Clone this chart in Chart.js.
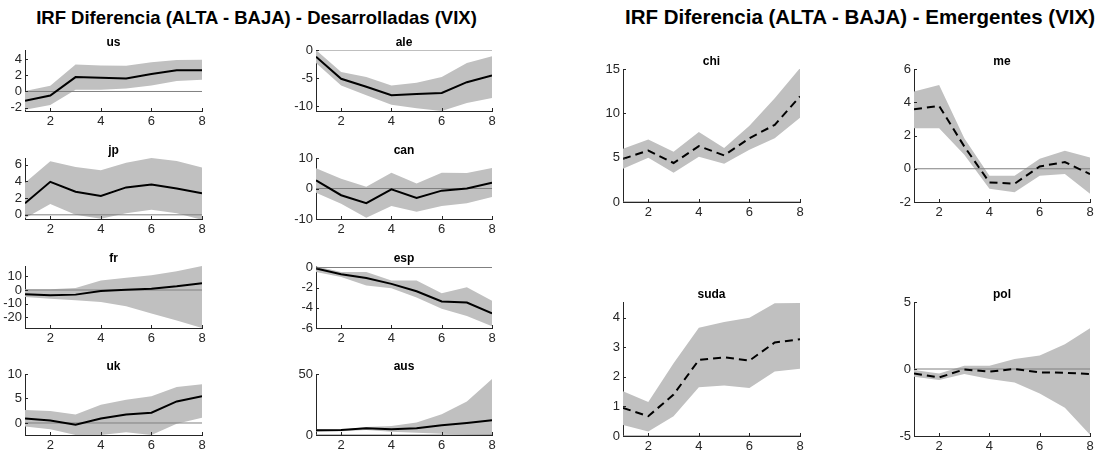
<!DOCTYPE html>
<html><head><meta charset="utf-8">
<script src="https://cdn.jsdelivr.net/npm/chart.js@4.4.0/dist/chart.umd.min.js"></script>
<style>
body{margin:0;background:#fff;width:1099px;height:458px;position:relative;overflow:hidden;font-family:"Liberation Sans",Arial,sans-serif}
.ttl{position:absolute;font-weight:bold;color:#000;text-align:center;white-space:nowrap}
canvas{position:absolute}
</style></head><body>
<div class="ttl" style="left:0;width:513px;top:7px;font-size:18.5px">IRF Diferencia (ALTA - BAJA) - Desarrolladas (VIX)</div>
<div class="ttl" style="left:605px;width:510px;top:5px;font-size:20.5px">IRF Diferencia (ALTA - BAJA) - Emergentes (VIX)</div>
<script>
// horizonte y ticks del eje x
const steps = [1, 2, 3, 4, 5, 6, 7, 8];
const xTicks = [2, 4, 6, 8];

// desarrolladas: respuesta (mid) y banda (up / lo)
const us_mid = [-1.15, -0.5, 1.77, 1.69, 1.6, 2.14, 2.6, 2.6];
const us_up = [0.05, 0.7, 3.33, 3.2, 3.17, 3.6, 3.87, 3.9];
const us_lo = [-2.26, -1.65, 0.2, 0.2, 0.37, 0.74, 1.3, 1.44];
const ale_mid = [-1.2, -5.1, -6.5, -8.0, -7.8, -7.6, -5.7, -4.5];
const ale_up = [0, -3.9, -4.8, -6.3, -5.8, -4.8, -2.3, -1.1];
const ale_lo = [-2.3, -6.3, -8.0, -9.7, -10.3, -10.8, -9.4, -8.5];
const jp_mid = [1.38, 3.95, 2.76, 2.25, 3.28, 3.63, 3.16, 2.57];
const jp_up = [3.83, 6.4, 5.72, 5.33, 6.24, 6.8, 6.43, 5.65];
const jp_lo = [-0.4, 1.3, 0, -0.47, 0.2, 0.6, 0.2, -0.6];
const can_mid = [2.7, -2.2, -4.8, -0.3, -3.1, -0.7, 0, 1.9];
const can_up = [6.6, 3.2, 0.6, 5.2, 1.6, 5.2, 5.1, 6.7];
const can_lo = [-1.4, -5, -9.6, -5.7, -7.6, -5.7, -4.8, -2.8];
const fr_mid = [-3.2, -3.9, -3.4, -0.7, 0.2, 1, 2.7, 4.9];
const fr_up = [0.5, 0.5, 1.5, 7.1, 9.1, 10.8, 13.8, 17.7];
const fr_lo = [-5.2, -6.4, -7.6, -8.8, -12, -17.4, -22.4, -28];
const esp_mid = [-0.1, -0.67, -1.04, -1.62, -2.36, -3.37, -3.47, -4.55];
const esp_up = [0.13, -0.44, -0.44, -1.28, -1.28, -2.56, -1.95, -3.3];
const esp_lo = [-0.44, -0.94, -1.79, -2.06, -2.97, -4.08, -4.82, -5.83];
const uk_mid = [0.9, 0.5, -0.35, 0.9, 1.75, 2.1, 4.4, 5.45];
const uk_up = [2.65, 2.45, 1.75, 3.7, 4.75, 5.45, 7.35, 7.9];
const uk_lo = [-0.7, -1.26, -2.45, -2.45, -1.9, -2.45, -0.14, 1.05];
const aus_mid = [3.85, 4.1, 5.5, 4.7, 5.5, 8, 9.9, 12.1];
const aus_up = [4.7, 4.4, 6.6, 7.4, 10.2, 17, 27.5, 45.9];
const aus_lo = [2.75, 3, 4.1, 2.75, 1.9, 1.1, 0.5, 0];

// emergentes
const chi_mid = [4.87, 5.8, 4.4, 6.3, 5.25, 7.2, 8.7, 11.9];
const chi_up = [6.0, 7.05, 5.66, 7.9, 6.1, 8.6, 11.7, 15.1];
const chi_lo = [3.75, 5.0, 3.3, 5.1, 4.3, 5.9, 7.2, 9.5];
const me_mid = [3.58, 3.78, 1.34, -0.82, -0.9, 0.14, 0.4, -0.32];
const me_up = [4.64, 5.04, 1.84, -0.42, -0.42, 0.6, 1.08, 0.68];
const me_lo = [2.44, 2.44, 0.84, -1.2, -1.42, -0.42, -0.32, -1.5];
const suda_mid = [0.95, 0.67, 1.4, 2.57, 2.66, 2.55, 3.16, 3.27];
const suda_up = [1.51, 1.15, 2.46, 3.66, 3.85, 4.0, 4.49, 4.5];
const suda_lo = [0.37, 0.15, 0.67, 1.65, 1.71, 1.62, 2.18, 2.27];
const pol_mid = [-0.33, -0.63, -0.03, -0.2, 0, -0.25, -0.28, -0.38];
const pol_up = [-0.08, -0.33, 0.25, 0.25, 0.75, 1.0, 1.85, 3.05];
const pol_lo = [-0.58, -0.83, -0.38, -0.75, -1.0, -1.83, -2.9, -4.9];

// ticks del eje y
const us_ticks = [-2, 0, 2, 4];
const ale_ticks = [-10, -5, 0];
const jp_ticks = [0, 2, 4, 6];
const can_ticks = [-10, 0, 10];
const fr_ticks = [-20, -10, 0, 10];
const esp_ticks = [-6, -4, -2, 0];
const uk_ticks = [0, 5, 10];
const aus_ticks = [0, 50];
const chi_ticks = [0, 5, 10, 15];
const me_ticks = [-2, 0, 2, 4, 6];
const suda_ticks = [0, 1, 2, 3, 4];
const pol_ticks = [-5, 0, 5];

Chart.defaults.font.family = '"Liberation Sans", Arial, sans-serif';

const panels = [
  {name: 'us', mid: us_mid, up: us_up, lo: us_lo, ticks: us_ticks, min: -2.4, max: 5.1, box: [25, 50, 202, 111]},
  {name: 'ale', mid: ale_mid, up: ale_up, lo: ale_lo, ticks: ale_ticks, min: -10.8, max: 0, box: [316, 50, 492, 111]},
  {name: 'jp', mid: jp_mid, up: jp_up, lo: jp_lo, ticks: jp_ticks, min: -0.5, max: 6.8, box: [25, 158, 202, 219]},
  {name: 'can', mid: can_mid, up: can_up, lo: can_lo, ticks: can_ticks, min: -10, max: 10, box: [316, 158, 492, 219]},
  {name: 'fr', mid: fr_mid, up: fr_up, lo: fr_lo, ticks: fr_ticks, min: -28, max: 17.7, box: [25, 266, 202, 328]},
  {name: 'esp', mid: esp_mid, up: esp_up, lo: esp_lo, ticks: esp_ticks, min: -6, max: 0.15, box: [316, 266, 492, 328]},
  {name: 'uk', mid: uk_mid, up: uk_up, lo: uk_lo, ticks: uk_ticks, min: -2.45, max: 10, box: [25, 374, 202, 435]},
  {name: 'aus', mid: aus_mid, up: aus_up, lo: aus_lo, ticks: aus_ticks, min: 0, max: 50, box: [316, 374, 492, 435]},
  {name: 'chi', mid: chi_mid, up: chi_up, lo: chi_lo, ticks: chi_ticks, min: 0, max: 15, box: [623, 69, 800, 202], dash: true},
  {name: 'me', mid: me_mid, up: me_up, lo: me_lo, ticks: me_ticks, min: -2, max: 6, box: [914, 69, 1090, 202], dash: true},
  {name: 'suda', mid: suda_mid, up: suda_up, lo: suda_lo, ticks: suda_ticks, min: 0, max: 4.53, box: [623, 302, 800, 436], dash: true},
  {name: 'pol', mid: pol_mid, up: pol_up, lo: pol_lo, ticks: pol_ticks, min: -5, max: 5, box: [914, 302, 1090, 436], dash: true}
];

// ticks hacia adentro, estilo matlab
const inTicks = {
  id: 'inTicks',
  afterDraw(chart) {
    const {ctx, chartArea: a, scales: {x, y}} = chart;
    ctx.save();
    ctx.strokeStyle = '#262626';
    ctx.lineWidth = 1;
    ctx.beginPath();
    x.ticks.forEach(t => {
      const px = Math.round(x.getPixelForValue(t.value)) + 0.5;
      ctx.moveTo(px, a.bottom); ctx.lineTo(px, a.bottom - 3);
    });
    y.ticks.forEach(t => {
      const py = Math.round(y.getPixelForValue(t.value)) + 0.5;
      ctx.moveTo(a.left, py); ctx.lineTo(a.left + 3, py);
    });
    ctx.stroke();
    ctx.restore();
  }
};

const padL = 38, padT = 23, padR = 10, padB = 22;

function drawPanel(p) {
  const [l, t, r, b] = p.box;
  const c = document.createElement('canvas');
  c.width = r - l + padL + padR;
  c.height = b - t + padT + padB;
  c.style.left = (l - padL) + 'px';
  c.style.top = (t - padT) + 'px';
  document.body.appendChild(c);
  const pts = arr => steps.map((x, i) => ({x: x, y: arr[i]}));
  new Chart(c, {
    type: 'line',
    data: {
      datasets: [
        {data: pts(p.lo), borderWidth: 0, pointRadius: 0, fill: false, order: 3},
        {data: pts(p.up), borderWidth: 0, pointRadius: 0, fill: '-1', backgroundColor: '#c0c0c0', order: 3},
        {data: [{x: 1, y: 0}, {x: 8, y: 0}], borderColor: '#808080', borderWidth: 1, pointRadius: 0, order: 2},
        {data: pts(p.mid), borderColor: '#000', borderWidth: 2, borderDash: p.dash ? [8, 5] : [], pointRadius: 0, order: 1}
      ]
    },
    options: {
      responsive: false,
      animation: false,
      events: [],
      layout: {padding: {left: 0, right: padR, top: 0, bottom: 0}},
      plugins: {
        legend: {display: false},
        tooltip: {enabled: false},
        // fullSize false: el titulo se centra sobre el area de ejes
        title: {display: true, fullSize: false, text: p.name, color: '#000',
          font: {size: 12, weight: 'bold', lineHeight: 1}, padding: {top: 10, bottom: 1}}
      },
      scales: {
        x: {
          type: 'linear', min: 1, max: 8,
          grid: {display: false, drawTicks: false},
          border: {color: '#262626', width: 1},
          ticks: {color: '#262626', font: {size: 13}, padding: 3, maxRotation: 0},
          afterBuildTicks: s => { s.ticks = xTicks.map(v => ({value: v})); },
          afterFit: s => { s.height = padB; }
        },
        y: {
          min: p.min, max: p.max,
          grid: {display: false, drawTicks: false},
          border: {color: '#262626', width: 1},
          ticks: {color: '#262626', font: {size: 13}, padding: 3},
          afterBuildTicks: s => { s.ticks = p.ticks.map(v => ({value: v})); },
          afterFit: s => { s.width = padL; }
        }
      }
    },
    plugins: [inTicks]
  });
}

panels.forEach(drawPanel);
</script>
</body></html>
